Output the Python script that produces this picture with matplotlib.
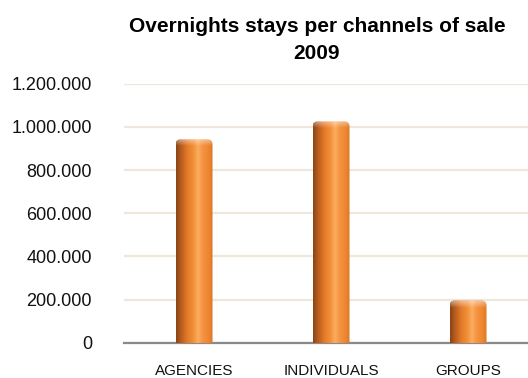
import numpy as np
import matplotlib
matplotlib.use('Agg')
import matplotlib.pyplot as plt
from matplotlib.colors import LinearSegmentedColormap
from matplotlib.patches import FancyBboxPatch
from matplotlib.ticker import FuncFormatter

plt.rcParams['font.family'] = ['Liberation Sans', 'DejaVu Sans']

channels = ['AGENCIES', 'INDIVIDUALS', 'GROUPS']
overnights = [942000, 1025000, 195000]
y_ticks = [0, 200000, 400000, 600000, 800000, 1000000, 1200000]

W, H = 528, 378
fig = plt.figure(figsize=(W / 100, H / 100), dpi=100)
ax_left, ax_bottom, ax_w, ax_h = 124, 35.3, 404, 259
ax = fig.add_axes([ax_left / W, ax_bottom / H, ax_w / W, ax_h / H])

xlim = (-0.511, 2.438)
ylim = (0, 1200000)

bars = ax.bar(range(len(channels)), overnights, width=0.27, color='none',
              edgecolor='none', zorder=3)

# size of one pixel in data units, used for the rounded caps
px_x = (xlim[1] - xlim[0]) / ax_w
px_y = (ylim[1] - ylim[0]) / ax_h

cyl = LinearSegmentedColormap.from_list('cyl', [
    (0.00, '#8A4416'),
    (0.12, '#B3591E'),
    (0.30, '#E27A28'),
    (0.48, '#F4913A'),
    (0.60, '#FBAE62'),
    (0.72, '#F59340'),
    (0.90, '#EC852F'),
    (1.00, '#D87526'),
])
grad = np.linspace(0, 1, 256).reshape(1, -1)

for b in bars:
    x0, w, h = b.get_x(), b.get_width(), b.get_height()
    r = 5 * px_x
    shape = FancyBboxPatch((x0, -10 * px_y), w, h + 10 * px_y,
                           boxstyle=f'round,pad=0,rounding_size={r}',
                           mutation_aspect=px_y / px_x,
                           transform=ax.transData, facecolor='none',
                           edgecolor='none')
    ax.add_patch(shape)
    im = ax.imshow(grad, cmap=cyl, extent=[x0, x0 + w, 0, h],
                   aspect='auto', zorder=3, interpolation='bicubic')
    im.set_clip_path(shape)
    # light rim on the top of the cylinder
    rim = np.zeros((20, 1, 4))
    rim[..., :3] = 1.0
    rim[:, 0, 3] = np.linspace(0.45, 0.0, 20)
    hl = ax.imshow(rim, extent=[x0, x0 + w, h - 7 * px_y, h],
                   aspect='auto', zorder=4, interpolation='bilinear')
    hl.set_clip_path(shape)

ax.set_xlim(*xlim)
ax.set_ylim(*ylim)

ax.set_yticks(y_ticks)
ax.yaxis.set_major_formatter(FuncFormatter(lambda v, p: f'{v:,.0f}'.replace(',', '.')))
ax.yaxis.grid(True, color='#EEE7DA', linewidth=1.6)
ax.set_axisbelow(True)

ax.set_xticks(range(len(channels)))
ax.set_xticklabels(channels)

ax.tick_params(axis='y', length=0, pad=23, labelsize=13, labelcolor='#111111')
ax.tick_params(axis='x', length=0, pad=15, labelsize=11, labelcolor='#111111')

for side in ['top', 'right', 'left']:
    ax.spines[side].set_visible(False)
ax.spines['bottom'].set_color('#8A8A8A')
ax.spines['bottom'].set_linewidth(1.6)

fig.text(317 / W, 1 - 40 / H, 'Overnights stays per channels of sale\n2009',
         ha='center', va='center', fontsize=15, fontweight='bold',
         linespacing=1.5)

fig.savefig('out.png', dpi=100)
